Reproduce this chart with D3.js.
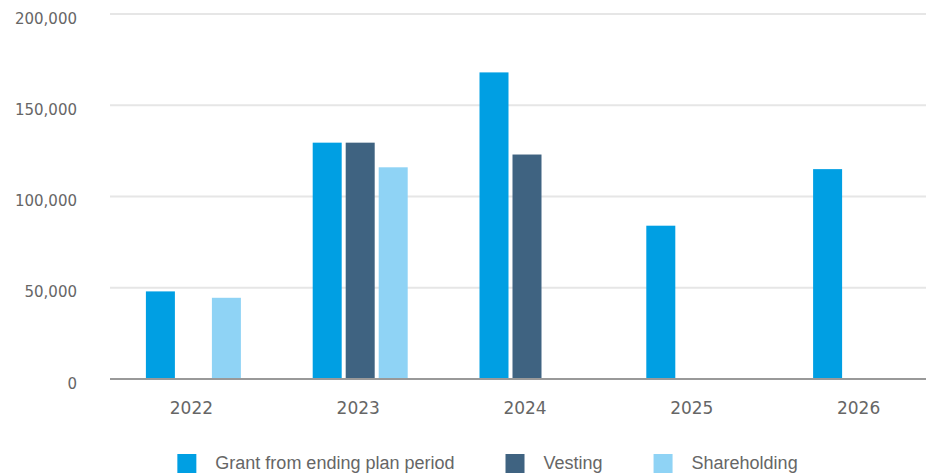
<!DOCTYPE html>
<html>
<head>
<meta charset="utf-8">
<script src="https://cdn.jsdelivr.net/npm/d3@7"></script>
<style>
  html, body { margin: 0; padding: 0; background: #fff; overflow: hidden; }
  svg { display: block; }
</style>
</head>
<body>
<svg id="chart" width="926" height="473"></svg>
<script>
// ---- data ----
const years = ["2022", "2023", "2024", "2025", "2026"];
const seriesNames = ["Grant from ending plan period", "Vesting", "Shareholding"];
const grantValues = [48000, 129500, 168000, 84000, 115000];
const vestingValues = [0, 129500, 123000, 0, 0];
const shareholdingValues = [44500, 116000, 0, 0, 0];
const seriesColors = ["#009FE3", "#3F6381", "#8FD3F5"];
const yTicks = [0, 50000, 100000, 150000, 200000];

const seriesValues = [grantValues, vestingValues, shareholdingValues];

// ---- layout ----
const svg = d3.select("#chart");
const plotLeft = 110, plotRight = 944, plotTop = 14, plotBottom = 379;

const x0 = d3.scaleBand().domain(years).range([plotLeft, plotRight]).padding(0);
const groupWidth = 95;
const x1 = d3.scaleBand().domain(seriesNames)
  .range([(x0.bandwidth() - groupWidth) / 2, (x0.bandwidth() + groupWidth) / 2])
  .paddingInner(4 / 33).paddingOuter(0);
const y = d3.scaleLinear().domain([0, 200000]).range([plotBottom, plotTop]);

const textColor = "#666666";
const fmt = d3.format(",");

// gridlines
svg.append("g").selectAll("line")
  .data(yTicks.filter(d => d !== 0))
  .join("line")
  .attr("x1", plotLeft).attr("x2", plotRight)
  .attr("y1", d => y(d)).attr("y2", d => y(d))
  .attr("stroke", "#E6E6E6").attr("stroke-width", 2);

// y labels
svg.append("g").selectAll("text")
  .data(yTicks)
  .join("text")
  .attr("x", 77)
  .attr("y", d => y(d) + 9.5)
  .attr("text-anchor", "end")
  .attr("font-family", "DejaVu Sans, sans-serif")
  .attr("font-size", 15)
  .attr("fill", textColor)
  .text(d => fmt(d));

// bars
const groups = svg.append("g").selectAll("g")
  .data(years)
  .join("g")
  .attr("transform", d => `translate(${x0(d)},0)`);

groups.selectAll("rect")
  .data((yr, i) => seriesNames.map((s, j) => ({ s, v: seriesValues[j][i], c: seriesColors[j] })))
  .join("rect")
  .attr("x", d => x1(d.s))
  .attr("width", x1.bandwidth())
  .attr("y", d => y(d.v))
  .attr("height", d => y(0) - y(d.v))
  .attr("fill", d => d.c);

// zero axis line
svg.append("line")
  .attr("x1", plotLeft).attr("x2", plotRight)
  .attr("y1", y(0)).attr("y2", y(0))
  .attr("stroke", "#999999").attr("stroke-width", 2);

// x labels
const xAxis = d3.axisBottom(x0).tickSize(0).tickPadding(0);
const xg = svg.append("g").attr("transform", `translate(0,${y(0)})`).call(xAxis);
xg.select(".domain").remove();
xg.selectAll("text")
  .attr("y", 35)
  .attr("dy", 0)
  .attr("dx", -2)
  .attr("font-family", "DejaVu Sans, sans-serif")
  .attr("font-size", 17)
  .attr("fill", textColor);

// legend
const legend = svg.append("g");
const items = legend.selectAll("g").data(seriesNames).join("g");
items.append("rect")
  .attr("width", 19).attr("height", 19)
  .attr("y", 454)
  .attr("fill", (d, i) => seriesColors[i]);
items.append("text")
  .attr("x", 38)
  .attr("y", 469)
  .attr("font-family", "Liberation Sans, Arial, sans-serif")
  .attr("font-size", 18)
  .attr("fill", textColor)
  .text(d => d);

let widths = [];
items.each(function () {
  widths.push(38 + this.querySelector("text").getComputedTextLength());
});
const gap = 51;
const total = d3.sum(widths) + gap * (widths.length - 1);
let cx = 487.5 - total / 2;
items.each(function (d, i) {
  d3.select(this).attr("transform", `translate(${cx},0)`);
  cx += widths[i] + gap;
});
</script>
</body>
</html>
